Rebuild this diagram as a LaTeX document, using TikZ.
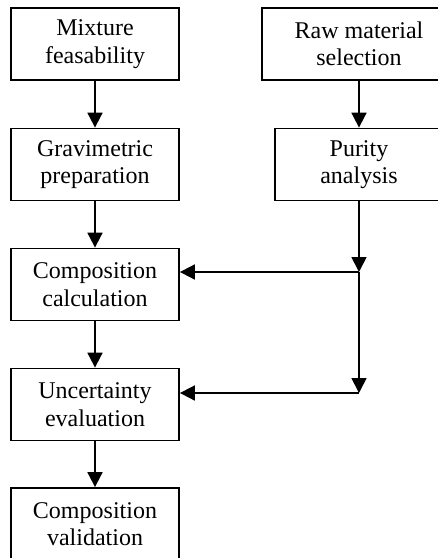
\documentclass[tikz,border=0pt]{standalone}
\usepackage{fontspec}
\setmainfont{Liberation Serif}
\usetikzlibrary{arrows.meta}

\begin{document}
\begin{tikzpicture}[x=1pt,y=-1pt,
  stage/.style={draw,line width=1.8pt,minimum width=168pt,minimum height=72pt,
    align=center,inner sep=0pt,font=\fontsize{24}{27.5}\selectfont},
  flow/.style={line width=1.8pt,-{Triangle[width=15pt,length=15pt]}}]
\clip (0,0) rectangle (438,558);

\node[stage] (mix) at (95,44) {Mixture\\feasability};
\node[stage] (grav) at (95,164.5) {Gravimetric\\preparation};
\node[stage] (calc) at (95,284.5) {Composition\\calculation};
\node[stage] (unc) at (95,404.5) {Uncertainty\\evaluation};
\node[stage] (val) at (95,524) {Composition\\validation};

\node[stage,minimum width=194pt] (raw) at (359,44) {Raw material\\selection};
\node[stage] (pur) at (359,164.5) {Purity\\analysis};

\coordinate (j1) at (359,272);
\coordinate (j2) at (359,393);

\draw[flow] (mix) -- (grav);
\draw[flow] (grav) -- (calc);
\draw[flow] (calc) -- (unc);
\draw[flow] (unc) -- (val);
\draw[flow] (raw) -- (pur);

\draw[flow] (pur) -- (j1);
\draw[flow] (j1) -- (j2);
\draw[flow] (j1) -- (j1 -| calc.east);
\draw[flow] (j2) -- (j2 -| unc.east);
\end{tikzpicture}
\end{document}
